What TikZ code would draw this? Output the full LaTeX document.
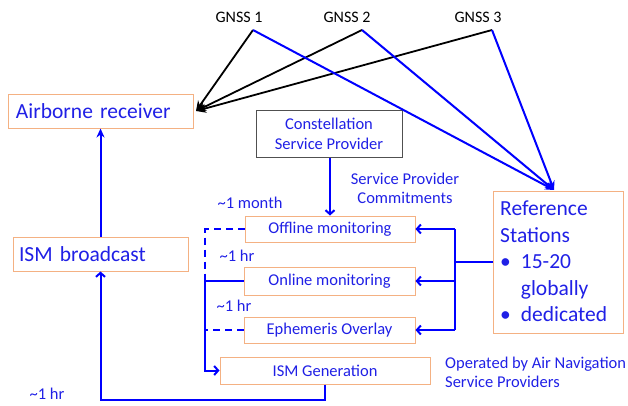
\documentclass[tikz,border=0pt]{standalone}
\usepackage{fontspec}
\setmainfont{Carlito}
\usetikzlibrary{arrows.meta}
\definecolor{textblue}{RGB}{32,32,230}
\definecolor{lineblue}{RGB}{0,0,255}
\definecolor{boxorange}{RGB}{244,177,131}
\definecolor{boxgray}{RGB}{80,80,80}
\begin{document}
\begin{tikzpicture}[x=1pt,y=-1pt,
  box/.style={draw=boxorange, line width=1pt, fill=white, text=textblue, inner sep=0pt},
  hugetxt/.style={font=\fontsize{21.5}{26.5}\selectfont},
  midtxt/.style={font=\fontsize{16.5}{20}\selectfont},
  lbl/.style={text=textblue, font=\fontsize{16.5}{19}\selectfont, inner sep=0pt},
  gnss/.style={text=black, font=\fontsize{16}{19}\selectfont, inner sep=0pt},
  blk/.style={draw=black, line width=1.8pt, -{Stealth[length=10pt,width=9pt]}},
  bl/.style={draw=lineblue, line width=2pt},
  bla/.style={bl, -{Straight Barb[length=4pt,width=9pt]}},
  blr/.style={bl, -{Stealth[length=9pt,width=8pt]}}
]
\useasboundingbox (0,0) rectangle (628,405);

% satellites
\node[gnss] (g1) at (239,17) {GNSS 1};
\node[gnss] (g2) at (347,17) {GNSS 2};
\node[gnss] (g3) at (478,17) {GNSS 3};
\coordinate (a1) at (253,30);
\coordinate (a2) at (362,30);
\coordinate (a3) at (492,30);

% boxes
\node[box, hugetxt, minimum width=185, minimum height=34, text width=170, inner xsep=7.5pt, align=left] (air) at (101,111) {Airborne receiver};
\node[box, hugetxt, minimum width=175, minimum height=34, text width=163, inner xsep=6pt, align=left] (bc) at (100.5,254) {ISM broadcast};
\node[box, draw=boxgray, midtxt, minimum width=146, minimum height=47, align=center] (csp) at (329,133.5) {Constellation\\Service Provider};
\node[box, midtxt, minimum width=170, minimum height=26] (off) at (330,229) {Offline monitoring};
\node[box, midtxt, minimum width=171, minimum height=28] (on) at (329.5,281) {Online monitoring};
\node[box, midtxt, minimum width=171, minimum height=26] (eph) at (329.5,330) {Ephemeris Overlay};
\node[box, midtxt, minimum width=210, minimum height=27] (gen) at (325,370.5) {ISM Generation};
\node[box, minimum width=130, minimum height=142, anchor=north west] (ref) at (493,191) {};
\node[text=textblue, hugetxt, anchor=north west, inner sep=0pt] (reftxt) at (500,197) {%
  \begin{tabular}{@{}l@{\hspace{10pt}}l@{}}
  \multicolumn{2}{@{}l@{}}{Reference}\\
  \multicolumn{2}{@{}l@{}}{Stations}\\
  \textbullet & 15-20\\
   & globally\\
  \textbullet & dedicated
  \end{tabular}};

% labels
\node[lbl, align=center] (spc) at (405,188) {Service Provider\\Commitments};
\node[lbl] (m1) at (250,203) {\textasciitilde1 month};
\node[lbl] (h1) at (237,256) {\textasciitilde1 hr};
\node[lbl] (h2) at (234,306) {\textasciitilde1 hr};
\node[lbl] (h3) at (47,394) {\textasciitilde1 hr};
\node[lbl, align=left, anchor=west] (ops) at (445,372.5) {Operated by Air Navigation\\Service Providers};

% satellite signals
\coordinate (rx) at (196,111);
\draw[blk] (a1) -- (rx);
\draw[blk] (a2) -- (rx);
\draw[blk] (a3) -- (rx);
\coordinate (rs) at (554,190);
\draw[blr] (a1) -- (rs);
\draw[blr] (a2) -- (rs);
\draw[blr] (a3) -- (rs);

% service provider to offline
\draw[bla] (csp.south -| off.north) -- (off.north);

% reference station bus
\coordinate (bus) at (455,262);
\draw[bl] (ref.west |- bus) -- (bus);
\draw[bl] (455,229) -- (455,330);
\draw[bla] (off.east -| bus) -- (off.east);
\draw[bla] (on.east -| bus) -- (on.east);
\draw[bla] (eph.east -| bus) -- (eph.east);

% monitoring outputs into ISM generation
\draw[bl, dash pattern=on 7pt off 5pt] (off.west) -- (205,229) -- (205,281);
\draw[bl, dash pattern=on 7pt off 5pt] (eph.west) -- (205,330);
\draw[bla] (on.west) -- (205,281) |- (gen.west);

% ISM path to aircraft
\draw[bla] (gen.south) -- (325,400) -| (bc.south);
\draw[blr] (bc.north) -- (air.south -| bc.north);
\end{tikzpicture}
\end{document}
